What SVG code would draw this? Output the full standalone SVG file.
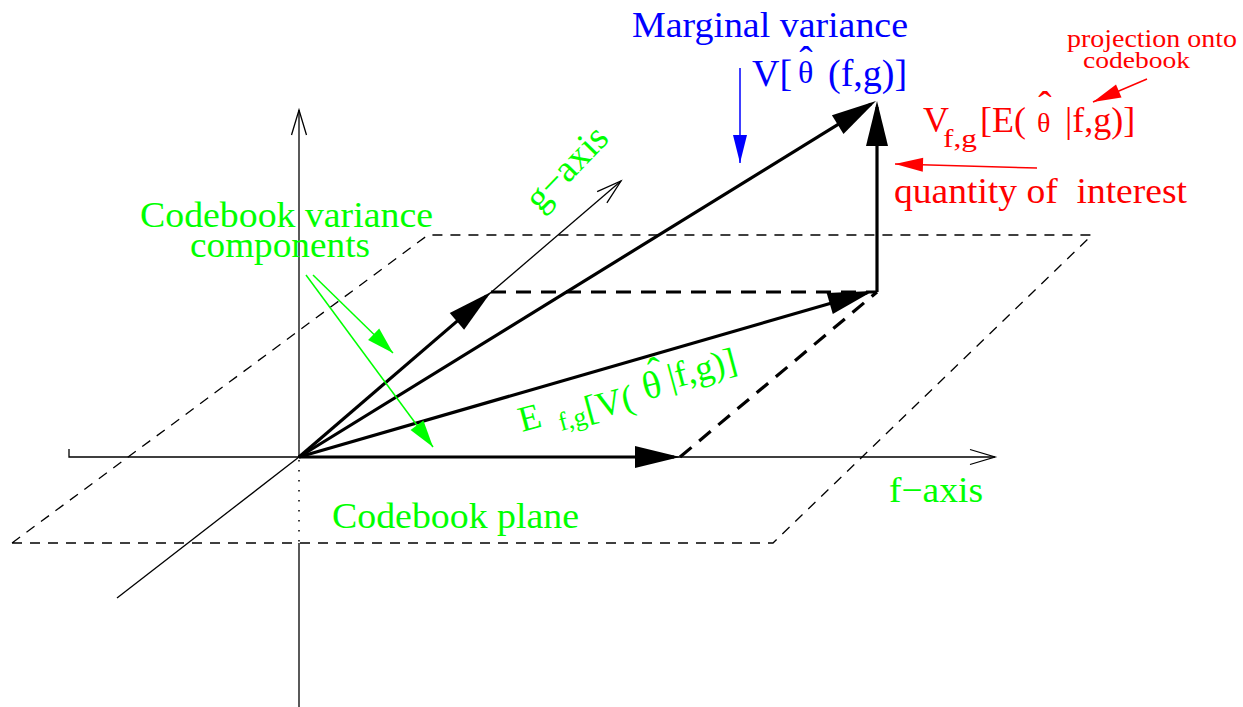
<svg xmlns="http://www.w3.org/2000/svg" width="1243" height="707" viewBox="0 0 1243 707">
<style>
  .t { font-family: "Liberation Serif", "Times New Roman", serif; }
  .gr { fill: #00ff00; }
  .bl { fill: #0000ff; }
  .rd { fill: #ff0000; }
  .thin { stroke: #000; stroke-width: 1.3; fill: none; }
  .dash { stroke: #000; stroke-width: 1.3; fill: none; stroke-dasharray: 10 8; }
  .dot { stroke: #000; stroke-width: 1.5; fill: none; stroke-dasharray: 1.5 8.5; }
  .thick { stroke: #000; stroke-width: 3.2; fill: none; }
  .thickdash { stroke: #000; stroke-width: 3.2; fill: none; stroke-dasharray: 15 10; }
</style>
<defs>
  <marker id="open" markerUnits="userSpaceOnUse" viewBox="-27 -9 29 18" refX="0" refY="0" markerWidth="29" markerHeight="18" orient="auto" overflow="visible">
    <path d="M-25,-7.5 L0,0 L-25,7.5" fill="none" stroke="#000" stroke-width="1.3"/>
  </marker>
  <marker id="head" markerUnits="userSpaceOnUse" viewBox="-47 -12 48 24" refX="-6" refY="0" markerWidth="48" markerHeight="24" orient="auto" overflow="visible">
    <path d="M0,0 L-45,-11 L-45,11 z" fill="#000"/>
  </marker>
  <marker id="ghead" markerUnits="userSpaceOnUse" viewBox="-29 -9 30 18" refX="0" refY="0" markerWidth="30" markerHeight="18" orient="auto" overflow="visible">
    <path d="M0,0 L-27,-8 L-27,8 z" fill="#00ff00"/>
  </marker>
  <marker id="bhead" markerUnits="userSpaceOnUse" viewBox="-29 -9 30 18" refX="0" refY="0" markerWidth="30" markerHeight="18" orient="auto" overflow="visible">
    <path d="M0,0 L-28,-7 L-28,7 z" fill="#0000ff"/>
  </marker>
  <marker id="rhead" markerUnits="userSpaceOnUse" viewBox="-30 -9 31 18" refX="0" refY="0" markerWidth="31" markerHeight="18" orient="auto" overflow="visible">
    <path d="M0,0 L-28,-7 L-28,7 z" fill="#ff0000"/>
  </marker>
</defs>
<rect width="1243" height="707" fill="#fff"/>

<g id="codebook-plane">
  <polygon class="dash" points="12,543 773,543 1092,235 428,235"/>
</g>

<g id="axes">
  <line class="thin" x1="299" y1="457" x2="299" y2="110" marker-end="url(#open)"/>
  <line class="dot" x1="299" y1="460" x2="299" y2="543"/>
  <line class="thin" x1="299" y1="543" x2="299" y2="707"/>
  <polyline class="thin" points="69,449 69,457 995,457" marker-end="url(#open)"/>
  <line class="thin" x1="117" y1="598" x2="299" y2="457"/>
  <line class="thin" x1="299" y1="457" x2="621" y2="181" marker-end="url(#open)"/>
</g>

<g id="connectors">
  <line class="thickdash" x1="491" y1="292" x2="877" y2="292"/>
  <line class="thickdash" x1="680" y1="457" x2="877" y2="292"/>
  <line class="thick" x1="299" y1="457" x2="674" y2="457" marker-end="url(#head)"/>
  <line class="thick" x1="299" y1="457" x2="486.5" y2="295.9" marker-end="url(#head)"/>
  <line class="thick" x1="299" y1="457" x2="870.9" y2="104.2" marker-end="url(#head)"/>
  <line class="thick" x1="299" y1="457" x2="867.2" y2="292.7" marker-end="url(#head)"/>
  <line class="thick" x1="877" y1="292" x2="877" y2="107" marker-end="url(#head)"/>
  <line stroke="#00ff00" stroke-width="1.5" x1="313" y1="275" x2="393" y2="353" marker-end="url(#ghead)"/>
  <line stroke="#00ff00" stroke-width="1.5" x1="306" y1="275" x2="433" y2="447" marker-end="url(#ghead)"/>
  <line stroke="#0000ff" stroke-width="1.5" x1="740" y1="68" x2="740" y2="163" marker-end="url(#bhead)"/>
  <line stroke="#ff0000" stroke-width="1.5" x1="1147" y1="79" x2="1093" y2="102" marker-end="url(#rhead)"/>
  <line stroke="#ff0000" stroke-width="1.5" x1="1037" y1="168" x2="895" y2="164" marker-end="url(#rhead)"/>
</g>

<g id="label-codebook-variance" class="t gr">
  <text x="140" y="227" font-size="36" textLength="293" lengthAdjust="spacingAndGlyphs">Codebook variance</text>
  <text x="190" y="257" font-size="36" textLength="180" lengthAdjust="spacingAndGlyphs">components</text>
</g>

<g id="label-g-axis" class="t gr">
  <text transform="translate(540,213) rotate(-46)" font-size="38">g−axis</text>
</g>

<g id="label-f-axis" class="t gr">
  <text x="889" y="502" font-size="35" textLength="94" lengthAdjust="spacingAndGlyphs">f−axis</text>
</g>

<g id="label-codebook-plane" class="t gr">
  <text x="332" y="528" font-size="36" textLength="247" lengthAdjust="spacingAndGlyphs">Codebook plane</text>
</g>

<g id="label-expected-variance" class="t gr">
  <text transform="translate(522,432) rotate(-15)" font-size="36">E</text>
  <text transform="translate(561,431) rotate(-15)" font-size="26">f,g</text>
  <text transform="translate(588,421) rotate(-15)" font-size="36">[V(</text>
  <text transform="translate(646,400) rotate(-15)" font-size="39">θ</text>
  <text transform="translate(653,361) rotate(-15)" font-size="40" y="24" text-anchor="middle">ˆ</text>
  <text transform="translate(671,389) rotate(-15)" font-size="36">|f,g)]</text>
</g>

<g id="label-marginal-variance" class="t bl">
  <text x="632" y="37" font-size="35" textLength="276" lengthAdjust="spacingAndGlyphs">Marginal variance</text>
  <text x="752" y="86" font-size="38">V[</text>
  <text x="798" y="83" font-size="32">θ</text>
  <text x="806" y="74" font-size="40" text-anchor="middle">ˆ</text>
  <text x="828" y="86" font-size="38">(f,g)]</text>
</g>

<g id="label-projection" class="t rd">
  <text x="1067" y="47" font-size="25" textLength="170" lengthAdjust="spacingAndGlyphs">projection onto</text>
  <text x="1083" y="68" font-size="24" textLength="107" lengthAdjust="spacingAndGlyphs">codebook</text>
</g>

<g id="label-quantity" class="t rd">
  <text x="923" y="132" font-size="36">V</text>
  <text x="943" y="147" font-size="26" textLength="34" lengthAdjust="spacingAndGlyphs">f,g</text>
  <text x="980" y="132" font-size="36">[E(</text>
  <text x="1037" y="132" font-size="28">θ</text>
  <text x="1045" y="119" font-size="40" text-anchor="middle">ˆ</text>
  <text x="1065" y="132" font-size="36">|f,g)]</text>
  <text x="894" y="203" font-size="35" xml:space="preserve" textLength="293" lengthAdjust="spacingAndGlyphs">quantity of  interest</text>
</g>
</svg>
